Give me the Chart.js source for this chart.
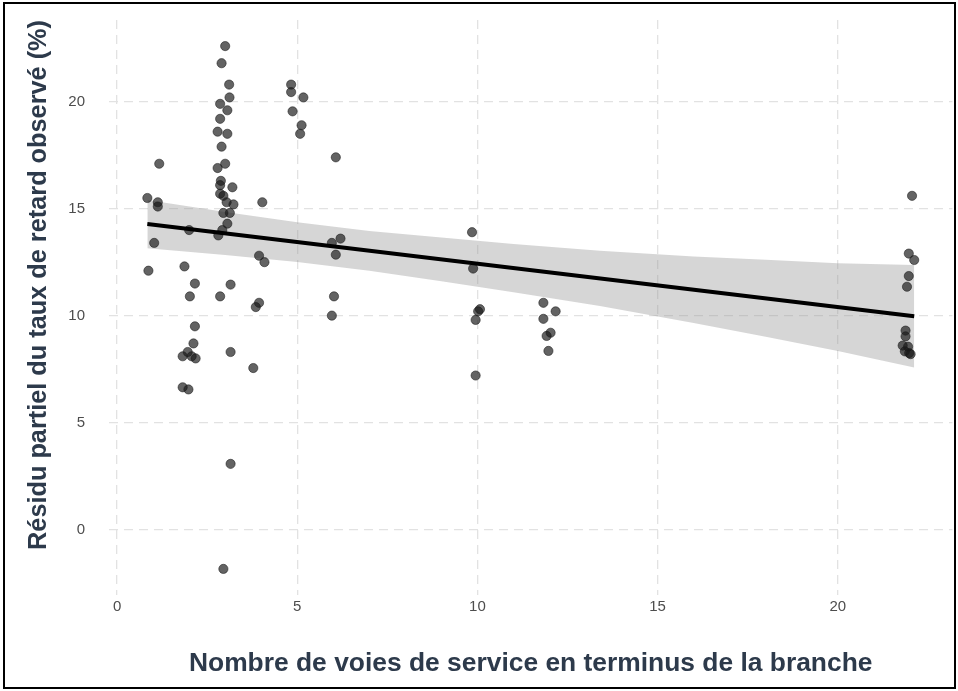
<!DOCTYPE html>
<html>
<head>
<meta charset="utf-8">
<script src="https://cdn.jsdelivr.net/npm/chart.js@4/dist/chart.umd.min.js"></script>
<style>
  html, body { margin: 0; padding: 0; background: #fff; }
  #wrap { position: relative; width: 958px; height: 691px; }
</style>
</head>
<body>
<div id="wrap"><canvas id="residuChart" width="958" height="691"></canvas></div>
<script>
"use strict";
// nombre de voies de service (x) et résidu partiel (y)
const voies = [
    3.00, 2.90, 3.11, 3.12, 2.86, 3.06, 2.86, 2.79, 3.06, 2.90,
    1.17, 2.79, 3.00, 2.88, 2.86, 3.20, 2.86, 2.95, 3.04, 3.23,
    0.84, 1.13, 1.13, 4.03, 2.95, 3.13, 3.06, 2.81, 2.92, 2.00,
    1.03, 0.87, 1.87, 3.94, 4.09, 2.16, 3.15, 2.02, 2.86, 3.94,
    3.85, 2.16, 2.12, 1.96, 1.82, 2.07, 2.18, 3.15, 3.78, 1.82,
    1.98, 3.15, 2.95, 4.83, 4.83, 5.17, 4.87, 5.12, 5.08, 6.07,
    5.96, 6.20, 6.07, 6.02, 5.96, 9.85, 9.88, 10.07, 10.02, 9.95,
    9.95, 11.83, 12.17, 11.83, 12.03, 11.92, 11.97, 22.06, 21.97, 22.12,
    21.97, 21.92, 21.88, 21.88, 21.80, 21.95, 21.86, 21.98, 22.02
];
const residus = [
    22.6, 21.8, 20.8, 20.2, 19.9, 19.6, 19.2, 18.6, 18.5, 17.9,
    17.1, 16.9, 17.1, 16.3, 16.1, 16.0, 15.7, 15.6, 15.3, 15.2,
    15.5, 15.3, 15.1, 15.3, 14.8, 14.8, 14.3, 13.75, 14.0, 14.0,
    13.4, 12.1, 12.3, 12.8, 12.5, 11.5, 11.45, 10.9, 10.9, 10.6,
    10.4, 9.5, 8.7, 8.3, 8.1, 8.1, 8.0, 8.3, 7.55, 6.65,
    6.55, 3.07, -1.84, 20.8, 20.45, 20.2, 19.55, 18.9, 18.5, 17.4,
    13.4, 13.6, 12.85, 10.9, 10.0, 13.9, 12.2, 10.3, 10.2, 9.8,
    7.2, 10.6, 10.2, 9.85, 9.2, 9.05, 8.35, 15.6, 12.9, 12.6,
    11.85, 11.35, 9.3, 9.03, 8.6, 8.55, 8.33, 8.25, 8.2
];

// droite de régression et intervalle de confiance
const droiteX = [0.84, 22.12];
const droiteY = [14.28, 9.97];
const bandeX = [0.84, 3, 5, 7, 9, 11, 13.4, 16, 18, 20, 22.12];
const bandeHaut = [15.41, 14.84, 14.37, 13.96, 13.65, 13.35, 13.03, 12.76, 12.61, 12.45, 12.37];
const bandeBas = [13.15, 12.84, 12.51, 12.10, 11.61, 11.09, 10.45, 9.66, 9.01, 8.35, 7.57];

const xTicks = [0, 5, 10, 15, 20];
const yTicks = [0, 5, 10, 15, 20];

function toPoints(xs, ys) {
    return xs.map((x, i) => ({ x: x, y: ys[i] }));
}

const titleColor = '#2d3a4b';
const tickColor = '#4d4d4d';
const gridColor = '#e2e2e2';

// fond blanc et cadre noir autour de l'image
const framePlugin = {
    id: 'frame',
    beforeDraw(chart) {
        const ctx = chart.ctx;
        ctx.save();
        ctx.fillStyle = '#ffffff';
        ctx.fillRect(0, 0, chart.width, chart.height);
        ctx.restore();
    },
    afterDraw(chart) {
        const ctx = chart.ctx;
        ctx.save();
        ctx.strokeStyle = '#000000';
        ctx.lineWidth = 2;
        ctx.strokeRect(4, 3, 951, 685);
        ctx.restore();
    }
};

let ctx = document.getElementById('residuChart');
let residuChart = new Chart(ctx, {
    type: 'scatter',
    data: {
        datasets: [{
            label: 'bande haut',
            data: toPoints(bandeX, bandeHaut),
            showLine: true,
            borderWidth: 0,
            pointRadius: 0,
            backgroundColor: 'rgba(153,153,153,0.4)',
            fill: false,
            order: 2
        }, {
            label: 'bande bas',
            data: toPoints(bandeX, bandeBas),
            showLine: true,
            borderWidth: 0,
            pointRadius: 0,
            backgroundColor: 'rgba(153,153,153,0.4)',
            fill: '-1',
            order: 2
        }, {
            label: 'résidus',
            data: toPoints(voies, residus),
            pointRadius: 4.6,
            pointBackgroundColor: 'rgba(25,25,25,0.68)',
            pointBorderColor: 'rgba(25,25,25,0.55)',
            pointBorderWidth: 1,
            order: 1
        }, {
            label: 'régression',
            data: toPoints(droiteX, droiteY),
            showLine: true,
            borderColor: '#000000',
            borderWidth: 4,
            pointRadius: 0,
            order: 0
        }]
    },
    options: {
        responsive: false,
        animation: false,
        devicePixelRatio: 1,
        layout: { padding: { left: 24, top: 20, right: 5, bottom: 11 } },
        plugins: {
            legend: { display: false },
            tooltip: { enabled: false }
        },
        scales: {
            x: {
                type: 'linear',
                min: -0.224,
                max: 23.18,
                afterFit: function (scale) { scale.height = 85; },
                afterBuildTicks: function (scale) {
                    scale.ticks = xTicks.map(v => ({ value: v }));
                },
                grid: { color: gridColor, lineWidth: 1.3, drawTicks: false },
                border: { display: false, dash: [9, 6] },
                ticks: {
                    padding: 3,
                    color: tickColor,
                    font: { family: 'Liberation Sans', size: 15 }
                },
                title: {
                    display: true,
                    text: 'Nombre de voies de service en terminus de la branche',
                    color: titleColor,
                    padding: 0,
                    font: { family: 'Liberation Sans', size: 26.4, weight: 'bold' }
                }
            },
            y: {
                type: 'linear',
                min: -3.06,
                max: 23.82,
                afterFit: function (scale) {
                    scale.width = 85;
                    scale.paddingTop = 0;
                    scale.paddingBottom = 0;
                },
                afterBuildTicks: function (scale) {
                    scale.ticks = yTicks.map(v => ({ value: v }));
                },
                grid: { color: gridColor, lineWidth: 1.3, drawTicks: false },
                border: { display: false, dash: [9, 6] },
                ticks: {
                    padding: 24,
                    color: tickColor,
                    font: { family: 'Liberation Sans', size: 15 }
                },
                title: {
                    display: true,
                    text: 'Résidu partiel du taux de retard observé (%)',
                    align: 'end',
                    color: titleColor,
                    padding: 0,
                    font: { family: 'Liberation Sans', size: 25.3, weight: 'bold' }
                }
            }
        }
    },
    plugins: [framePlugin]
});
</script>
</body>
</html>
